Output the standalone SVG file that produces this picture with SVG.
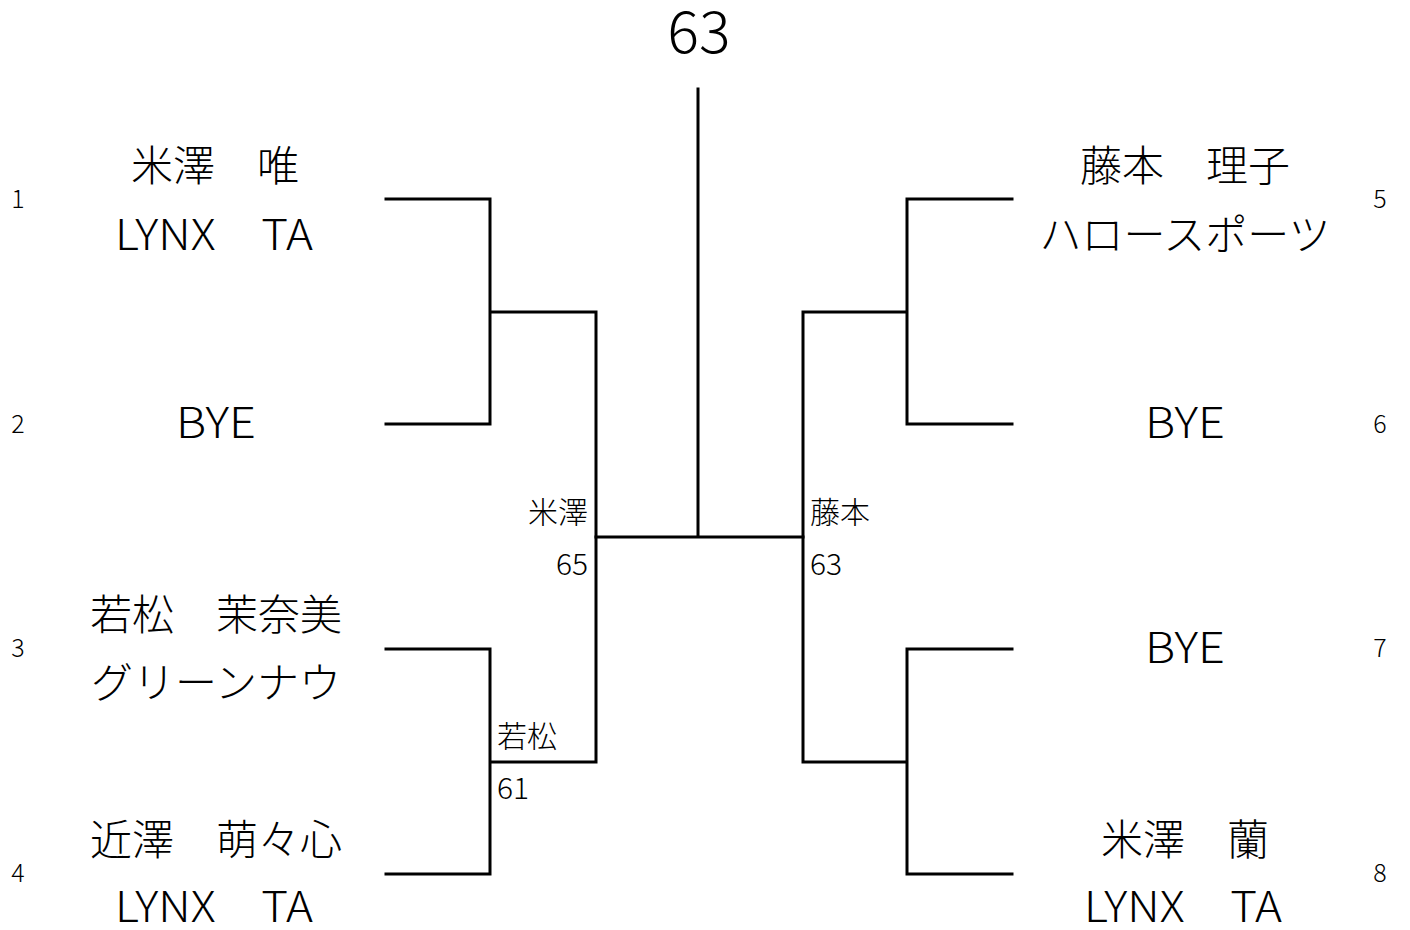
<svg xmlns="http://www.w3.org/2000/svg" width="1410" height="930" viewBox="0 0 1410 930">
<style>
text{font-family:"Noto Sans CJK JP","Noto Sans",sans-serif;fill:#000;font-weight:300}
.n{font-size:42px;text-anchor:middle}
.s{font-size:25px;text-anchor:middle}
.sc{font-size:30px}
.t{font-size:58px;text-anchor:middle}
#conn path{fill:none;stroke:#000;stroke-width:3;stroke-linecap:square}
</style>
<rect width="1410" height="930" fill="#fff"/>
<g id="conn">
<path d="M386 199H490V424H386M490 312H596V762H490M386 649H490V874H386"/>
<path d="M1012 199H907V424H1012M907 312H803V762H907M1012 649H907V874H1012"/>
<path d="M596 537H803M698 89V537"/>
</g>
<g id="title"><text class="t" x="699" y="53" textLength="63" lengthAdjust="spacingAndGlyphs">63</text></g>
<g id="p1"><text class="s" x="18" y="208">1</text><text class="n" x="215" y="181">米澤　唯</text><text class="n" x="214" y="250" textLength="198" lengthAdjust="spacingAndGlyphs">LYNX　TA</text></g>
<g id="p2"><text class="s" x="18" y="433">2</text><text class="n" x="216" y="438" textLength="80" lengthAdjust="spacingAndGlyphs">BYE</text></g>
<g id="p3"><text class="s" x="18" y="657">3</text><text class="n" x="216" y="630">若松　茉奈美</text><text class="n" x="216" y="698">グリーンナウ</text></g>
<g id="p4"><text class="s" x="18" y="882">4</text><text class="n" x="216" y="855">近澤　萌々心</text><text class="n" x="214" y="922" textLength="198" lengthAdjust="spacingAndGlyphs">LYNX　TA</text></g>
<g id="p5"><text class="s" x="1380" y="208">5</text><text class="n" x="1185" y="181">藤本　理子</text><text class="n" x="1185" y="250">ハロースポーツ</text></g>
<g id="p6"><text class="s" x="1380" y="433">6</text><text class="n" x="1185" y="438" textLength="80" lengthAdjust="spacingAndGlyphs">BYE</text></g>
<g id="p7"><text class="s" x="1380" y="657">7</text><text class="n" x="1185" y="663" textLength="80" lengthAdjust="spacingAndGlyphs">BYE</text></g>
<g id="p8"><text class="s" x="1380" y="882">8</text><text class="n" x="1185" y="855">米澤　蘭</text><text class="n" x="1183" y="922" textLength="198" lengthAdjust="spacingAndGlyphs">LYNX　TA</text></g>
<g id="r1"><text class="sc" x="588" y="523" text-anchor="end">米澤</text><text class="sc" x="588" y="575" text-anchor="end">65</text></g>
<g id="r2"><text class="sc" x="810" y="523">藤本</text><text class="sc" x="810" y="575">63</text></g>
<g id="r3"><text class="sc" x="497" y="747">若松</text><text class="sc" x="497" y="799">61</text></g>
</svg>
